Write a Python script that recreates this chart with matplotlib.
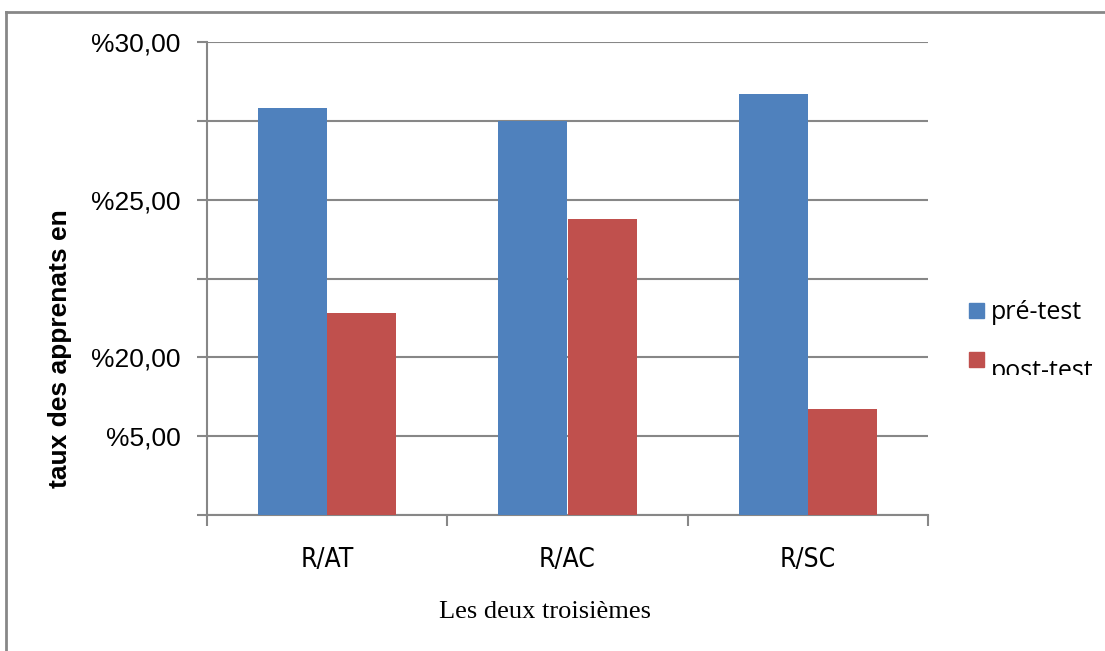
"""Pre-test / post-test bar chart per class (R/AT, R/AC, R/SC)."""

import matplotlib

matplotlib.use("Agg")
import numpy as np
from matplotlib import pyplot as plt
from matplotlib.lines import Line2D
from matplotlib.patches import Rectangle
from matplotlib.transforms import Bbox, TransformedBbox

CATEGORIES = ["R/AT", "R/AC", "R/SC"]
PRE_TEST = [25.8, 25.0, 26.7]
POST_TEST = [12.8, 18.8, 6.7]
SERIES_NAMES = ["pré-test", "post-test"]

# tick labels as printed on the original (odd, but kept as is)
Y_TICKS = [0, 5, 10, 15, 20, 25, 30]
Y_TICK_LABELS = ["", "%5,00", "%20,00", "", "%25,00", "", "%30,00"]

BLUE = "#4F81BD"
RED = "#C0504D"
GRID = "#878787"

W, H = 1105, 651
fig = plt.figure(figsize=(W / 100, H / 100), dpi=100)
ax = fig.add_axes([207 / W, 1 - 515 / H, (928 - 207) / W, (515 - 42) / H])

x = np.arange(len(CATEGORIES))
width = 0.2875
ax.bar(x - width / 2, PRE_TEST, width, color=BLUE, zorder=3)
ax.bar(x + width / 2, POST_TEST, width, color=RED, zorder=3)

ax.set_xlim(-0.5, len(CATEGORIES) - 0.5)
ax.set_ylim(0, 30)

ax.set_yticks(Y_TICKS)
ax.set_yticklabels(Y_TICK_LABELS, family="Liberation Sans", fontsize=19)
ax.tick_params(axis="y", direction="out", length=7, width=1.5, color=GRID, pad=12)
ax.yaxis.grid(True, color=GRID, linewidth=1.5, zorder=0)

# category boundaries as ticks, labels at centres
ax.set_xticks(np.arange(len(CATEGORIES) + 1) - 0.5)
ax.set_xticklabels([])
ax.set_xticks(x, minor=True)
ax.set_xticklabels(CATEGORIES, minor=True, family="DejaVu Sans", fontstretch="condensed",
                   fontsize=19)
ax.tick_params(axis="x", which="major", direction="out", length=8, width=1.5, color=GRID)
ax.tick_params(axis="x", which="minor", length=0, pad=23)

for side in ("top", "right"):
    ax.spines[side].set_visible(False)
for side in ("left", "bottom"):
    ax.spines[side].set_color(GRID)
    ax.spines[side].set_linewidth(1.5)

fig.text(545 / W, 1 - 612 / H, "Les deux troisièmes", family="Liberation Serif",
         fontsize=19, ha="center", va="center")
fig.text(60 / W, 1 - 349 / H, "taux des apprenats en", family="Liberation Sans",
         fontweight="bold", fontsize=19, rotation=90, ha="center", va="center")

# legend drawn by hand: the second label is cut off at its bottom in the original
legend_rows = [(SERIES_NAMES[0], BLUE, 303, 319), (SERIES_NAMES[1], RED, 352, 378)]
for name, colour, box_top, baseline in legend_rows:
    fig.add_artist(Rectangle((969 / W, 1 - (box_top + 15) / H), 15 / W, 15 / H,
                             transform=fig.transFigure, color=colour))
    t = fig.text(991 / W, 1 - baseline / H, name, family="Open Sans", fontsize=18,
                 ha="left", va="baseline")
clip = TransformedBbox(Bbox.from_extents(0, 1 - 375 / H, 1, 1), fig.transFigure)
t.set_clip_box(clip)
t.set_clip_on(True)

# outer frame (only top and left edges show in the original)
fig.add_artist(Line2D([6 / W, 1], [1 - 12 / H, 1 - 12 / H], transform=fig.transFigure,
                      color=GRID, linewidth=2))
fig.add_artist(Line2D([6 / W, 6 / W], [0, 1 - 12 / H], transform=fig.transFigure,
                      color=GRID, linewidth=2))

fig.savefig("out.png", dpi=100)
